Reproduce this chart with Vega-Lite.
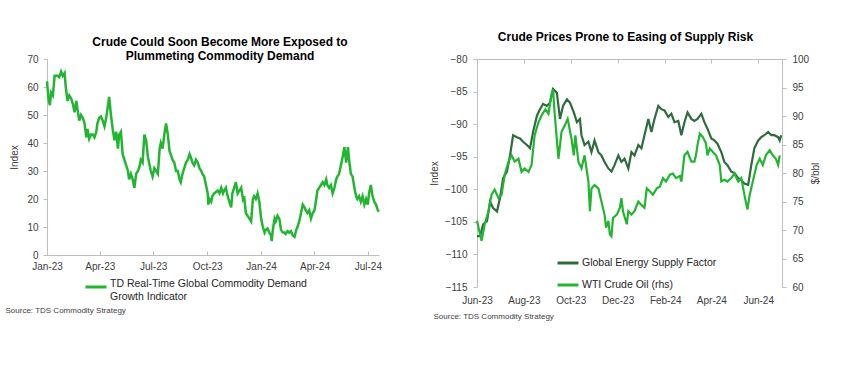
{
  "$schema": "https://vega.github.io/schema/vega-lite/v6.json",
  "padding": {"left": 5, "top": 31, "right": 5, "bottom": 5},
  "spacing": 45,
  "config": {
    "font": "Liberation Sans",
    "view": {"stroke": null},
    "axis": {"labelFont": "Liberation Sans", "labelFontSize": 10, "labelColor": "#404040", "domainColor": "#bfbfbf", "tickColor": "#bfbfbf", "grid": false, "titleFont": "Liberation Sans", "titleFontWeight": "normal", "titleFontSize": 10, "titleColor": "#404040", "tickSize": 4, "labelPadding": 5, "labelFlush": false},
    "legend": {"labelFont": "Liberation Sans", "labelFontSize": 10.5, "labelColor": "#262626", "symbolType": "stroke", "symbolSize": 440, "symbolStrokeWidth": 3, "labelOffset": 2, "padding": 0, "titlePadding": 0},
    "title": {"font": "Liberation Sans", "fontSize": 12, "fontWeight": "bold", "color": "#000000", "anchor": "middle"}
  },
  "resolve": {"scale": {"color": "independent"}, "legend": {"color": "independent"}},
  "hconcat": [
    {
      "width": 332,
      "height": 196,
      "title": {"text": ["Crude Could Soon Become More Exposed to", "Plummeting Commodity Demand"], "offset": 2, "lineHeight": 14, "dx": 7, "dy": 11},
      "data": {"values": [
        {"d": "2023-01-01", "v": 62}, {"d": "2023-01-04", "v": 55}, {"d": "2023-01-06", "v": 53.5}, {"d": "2023-01-08", "v": 58}, {"d": "2023-01-11", "v": 57}, {"d": "2023-01-14", "v": 64}, {"d": "2023-01-19", "v": 64}, {"d": "2023-01-22", "v": 63.5}, {"d": "2023-01-25", "v": 65.5}, {"d": "2023-01-28", "v": 64}, {"d": "2023-01-31", "v": 65},
        {"d": "2023-02-02", "v": 60}, {"d": "2023-02-05", "v": 55}, {"d": "2023-02-08", "v": 57}, {"d": "2023-02-11", "v": 56}, {"d": "2023-02-14", "v": 54}, {"d": "2023-02-17", "v": 51}, {"d": "2023-02-20", "v": 55}, {"d": "2023-02-22", "v": 52}, {"d": "2023-02-25", "v": 48}, {"d": "2023-02-28", "v": 50},
        {"d": "2023-03-03", "v": 49}, {"d": "2023-03-06", "v": 47}, {"d": "2023-03-09", "v": 42}, {"d": "2023-03-11", "v": 45}, {"d": "2023-03-14", "v": 41.5}, {"d": "2023-03-17", "v": 43}, {"d": "2023-03-20", "v": 43}, {"d": "2023-03-23", "v": 42}, {"d": "2023-03-26", "v": 44}, {"d": "2023-03-28", "v": 47}, {"d": "2023-03-31", "v": 49},
        {"d": "2023-04-03", "v": 49.5}, {"d": "2023-04-06", "v": 48}, {"d": "2023-04-09", "v": 46}, {"d": "2023-04-12", "v": 49}, {"d": "2023-04-14", "v": 52}, {"d": "2023-04-17", "v": 56.5}, {"d": "2023-04-20", "v": 50}, {"d": "2023-04-23", "v": 45}, {"d": "2023-04-26", "v": 41}, {"d": "2023-04-29", "v": 44},
        {"d": "2023-05-02", "v": 38}, {"d": "2023-05-04", "v": 43}, {"d": "2023-05-07", "v": 44}, {"d": "2023-05-10", "v": 36}, {"d": "2023-05-13", "v": 34}, {"d": "2023-05-16", "v": 32}, {"d": "2023-05-19", "v": 30}, {"d": "2023-05-21", "v": 27}, {"d": "2023-05-24", "v": 29}, {"d": "2023-05-27", "v": 27}, {"d": "2023-05-30", "v": 24},
        {"d": "2023-06-02", "v": 29}, {"d": "2023-06-05", "v": 30}, {"d": "2023-06-07", "v": 31}, {"d": "2023-06-10", "v": 34}, {"d": "2023-06-13", "v": 33}, {"d": "2023-06-16", "v": 43}, {"d": "2023-06-19", "v": 41}, {"d": "2023-06-22", "v": 35}, {"d": "2023-06-24", "v": 33}, {"d": "2023-06-27", "v": 30}, {"d": "2023-06-30", "v": 28},
        {"d": "2023-07-03", "v": 31}, {"d": "2023-07-06", "v": 30}, {"d": "2023-07-09", "v": 29}, {"d": "2023-07-12", "v": 38}, {"d": "2023-07-14", "v": 40}, {"d": "2023-07-17", "v": 38}, {"d": "2023-07-20", "v": 43}, {"d": "2023-07-23", "v": 47}, {"d": "2023-07-26", "v": 43}, {"d": "2023-07-29", "v": 37}, {"d": "2023-07-31", "v": 36},
        {"d": "2023-08-03", "v": 34}, {"d": "2023-08-06", "v": 33}, {"d": "2023-08-09", "v": 30}, {"d": "2023-08-12", "v": 30}, {"d": "2023-08-15", "v": 27}, {"d": "2023-08-17", "v": 26}, {"d": "2023-08-20", "v": 29}, {"d": "2023-08-23", "v": 31}, {"d": "2023-08-26", "v": 33}, {"d": "2023-08-29", "v": 34},
        {"d": "2023-09-01", "v": 36}, {"d": "2023-09-03", "v": 35}, {"d": "2023-09-06", "v": 33}, {"d": "2023-09-09", "v": 32}, {"d": "2023-09-12", "v": 34}, {"d": "2023-09-15", "v": 33}, {"d": "2023-09-18", "v": 31}, {"d": "2023-09-21", "v": 30}, {"d": "2023-09-23", "v": 29}, {"d": "2023-09-26", "v": 28}, {"d": "2023-09-29", "v": 25},
        {"d": "2023-10-02", "v": 22}, {"d": "2023-10-03", "v": 18}, {"d": "2023-10-05", "v": 20}, {"d": "2023-10-08", "v": 19}, {"d": "2023-10-10", "v": 21}, {"d": "2023-10-13", "v": 22}, {"d": "2023-10-19", "v": 23}, {"d": "2023-10-22", "v": 22}, {"d": "2023-10-25", "v": 24}, {"d": "2023-10-28", "v": 22}, {"d": "2023-10-30", "v": 23},
        {"d": "2023-11-02", "v": 24}, {"d": "2023-11-05", "v": 21}, {"d": "2023-11-08", "v": 19}, {"d": "2023-11-11", "v": 17}, {"d": "2023-11-13", "v": 22}, {"d": "2023-11-16", "v": 24}, {"d": "2023-11-19", "v": 26}, {"d": "2023-11-22", "v": 22}, {"d": "2023-11-25", "v": 23}, {"d": "2023-11-28", "v": 24},
        {"d": "2023-12-01", "v": 20}, {"d": "2023-12-03", "v": 21}, {"d": "2023-12-06", "v": 15}, {"d": "2023-12-09", "v": 14}, {"d": "2023-12-12", "v": 13}, {"d": "2023-12-15", "v": 12}, {"d": "2023-12-18", "v": 20}, {"d": "2023-12-20", "v": 21}, {"d": "2023-12-23", "v": 20}, {"d": "2023-12-26", "v": 22}, {"d": "2023-12-29", "v": 19},
        {"d": "2024-01-01", "v": 13}, {"d": "2024-01-04", "v": 10}, {"d": "2024-01-07", "v": 8}, {"d": "2024-01-09", "v": 9}, {"d": "2024-01-12", "v": 9.5}, {"d": "2024-01-15", "v": 8}, {"d": "2024-01-18", "v": 7}, {"d": "2024-01-19", "v": 5}, {"d": "2024-01-21", "v": 9}, {"d": "2024-01-24", "v": 13}, {"d": "2024-01-26", "v": 12}, {"d": "2024-01-29", "v": 14},
        {"d": "2024-02-01", "v": 13}, {"d": "2024-02-04", "v": 9}, {"d": "2024-02-07", "v": 8}, {"d": "2024-02-10", "v": 8}, {"d": "2024-02-12", "v": 7.5}, {"d": "2024-02-15", "v": 8.5}, {"d": "2024-02-18", "v": 8}, {"d": "2024-02-21", "v": 8.5}, {"d": "2024-02-24", "v": 7}, {"d": "2024-02-27", "v": 6.5},
        {"d": "2024-03-01", "v": 9}, {"d": "2024-03-03", "v": 10}, {"d": "2024-03-06", "v": 12}, {"d": "2024-03-09", "v": 15}, {"d": "2024-03-12", "v": 18}, {"d": "2024-03-15", "v": 17}, {"d": "2024-03-17", "v": 16}, {"d": "2024-03-20", "v": 15}, {"d": "2024-03-23", "v": 16}, {"d": "2024-03-26", "v": 13}, {"d": "2024-03-29", "v": 15},
        {"d": "2024-04-01", "v": 16}, {"d": "2024-04-04", "v": 20}, {"d": "2024-04-06", "v": 23}, {"d": "2024-04-09", "v": 24}, {"d": "2024-04-12", "v": 25}, {"d": "2024-04-15", "v": 26}, {"d": "2024-04-18", "v": 25}, {"d": "2024-04-21", "v": 27}, {"d": "2024-04-23", "v": 25}, {"d": "2024-04-26", "v": 24}, {"d": "2024-04-29", "v": 25},
        {"d": "2024-05-02", "v": 22}, {"d": "2024-05-05", "v": 24}, {"d": "2024-05-08", "v": 27}, {"d": "2024-05-10", "v": 28}, {"d": "2024-05-13", "v": 29}, {"d": "2024-05-16", "v": 32}, {"d": "2024-05-19", "v": 35}, {"d": "2024-05-22", "v": 38.5}, {"d": "2024-05-25", "v": 33}, {"d": "2024-05-28", "v": 38.5}, {"d": "2024-05-30", "v": 34},
        {"d": "2024-06-02", "v": 29}, {"d": "2024-06-05", "v": 28}, {"d": "2024-06-08", "v": 24}, {"d": "2024-06-11", "v": 21}, {"d": "2024-06-13", "v": 20}, {"d": "2024-06-16", "v": 21}, {"d": "2024-06-19", "v": 19}, {"d": "2024-06-22", "v": 21}, {"d": "2024-06-25", "v": 18}, {"d": "2024-06-28", "v": 20},
        {"d": "2024-07-01", "v": 18}, {"d": "2024-07-03", "v": 22}, {"d": "2024-07-06", "v": 25}, {"d": "2024-07-09", "v": 21}, {"d": "2024-07-12", "v": 19}, {"d": "2024-07-15", "v": 18}, {"d": "2024-07-18", "v": 16}, {"d": "2024-07-20", "v": 15.5}
      ]},
      "mark": {"type": "line", "strokeWidth": 2.5},
      "encoding": {
        "x": {
          "field": "d", "type": "temporal",
          "scale": {"type": "utc", "domain": [{"year": 2023, "month": 1, "date": 1, "utc": true}, {"year": 2024, "month": 7, "date": 20, "utc": true}]},
          "axis": {
            "format": "%b-%y",
            "values": [{"year": 2023, "month": 1, "date": 1, "utc": true}, {"year": 2023, "month": 4, "date": 1, "utc": true}, {"year": 2023, "month": 7, "date": 1, "utc": true}, {"year": 2023, "month": 10, "date": 1, "utc": true}, {"year": 2024, "month": 1, "date": 1, "utc": true}, {"year": 2024, "month": 4, "date": 1, "utc": true}, {"year": 2024, "month": 7, "date": 1, "utc": true}],
            "tickSize": -4, "labelPadding": 10,
            "title": "Source: TDS Commodity Strategy", "titleFontSize": 8, "titleX": -42, "titleY": 55, "titleAlign": "left", "titleBaseline": "middle", "titleAnchor": "start"
          }
        },
        "y": {
          "field": "v", "type": "quantitative",
          "scale": {"domain": [0, 70]},
          "axis": {"values": [0, 10, 20, 30, 40, 50, 60, 70], "title": "Index", "titlePadding": 7}
        },
        "color": {
          "datum": "TD Real-Time Global Commodity Demand Growth Indicator",
          "scale": {"range": ["#22b532"]},
          "legend": {"orient": "none", "legendX": 37, "legendY": 216, "title": null, "labelExpr": "['TD Real-Time Global Commodity Demand', 'Growth Indicator']", "labelBaseline": "alphabetic", "labelLimit": 400}
        }
      }
    },
    {
      "width": 305,
      "height": 228,
      "title": {"text": "Crude Prices Prone to Easing of Supply Risk", "offset": 10, "dx": -4},
      "layer": [
        {
          "data": {"values": [
            {"d": "2023-06-01", "v": -107.2}, {"d": "2023-06-05", "v": -107.2}, {"d": "2023-06-09", "v": -105.4}, {"d": "2023-06-14", "v": -104.9}, {"d": "2023-06-18", "v": -101.9}, {"d": "2023-06-22", "v": -102.9}, {"d": "2023-06-27", "v": -103.4},
            {"d": "2023-07-01", "v": -101.3}, {"d": "2023-07-05", "v": -98.3}, {"d": "2023-07-10", "v": -97.3}, {"d": "2023-07-14", "v": -94.8}, {"d": "2023-07-18", "v": -91.7}, {"d": "2023-07-23", "v": -92}, {"d": "2023-07-27", "v": -92.2}, {"d": "2023-07-31", "v": -92.7},
            {"d": "2023-08-05", "v": -93.2}, {"d": "2023-08-09", "v": -93.7}, {"d": "2023-08-13", "v": -91.2}, {"d": "2023-08-18", "v": -88.7}, {"d": "2023-08-22", "v": -87.7}, {"d": "2023-08-26", "v": -86.9}, {"d": "2023-08-31", "v": -87.2},
            {"d": "2023-09-04", "v": -86.7}, {"d": "2023-09-08", "v": -84.6}, {"d": "2023-09-13", "v": -85.2}, {"d": "2023-09-17", "v": -89.2}, {"d": "2023-09-21", "v": -87.2}, {"d": "2023-09-26", "v": -86.2}, {"d": "2023-09-30", "v": -86.7},
            {"d": "2023-10-05", "v": -88.2}, {"d": "2023-10-09", "v": -89.7}, {"d": "2023-10-13", "v": -89.2}, {"d": "2023-10-15", "v": -91.7}, {"d": "2023-10-19", "v": -93.2}, {"d": "2023-10-24", "v": -92.7}, {"d": "2023-10-28", "v": -94.3},
            {"d": "2023-11-01", "v": -92.5}, {"d": "2023-11-06", "v": -94.3}, {"d": "2023-11-10", "v": -94.8}, {"d": "2023-11-14", "v": -95.8}, {"d": "2023-11-19", "v": -96.8}, {"d": "2023-11-23", "v": -97.3}, {"d": "2023-11-27", "v": -96.3},
            {"d": "2023-12-02", "v": -94.8}, {"d": "2023-12-06", "v": -95.8}, {"d": "2023-12-10", "v": -95.3}, {"d": "2023-12-15", "v": -96.8}, {"d": "2023-12-19", "v": -94.3}, {"d": "2023-12-23", "v": -94.8}, {"d": "2023-12-28", "v": -93.2},
            {"d": "2024-01-01", "v": -93.7}, {"d": "2024-01-05", "v": -91.7}, {"d": "2024-01-10", "v": -89.2}, {"d": "2024-01-14", "v": -91.2}, {"d": "2024-01-18", "v": -89.2}, {"d": "2024-01-23", "v": -87.2}, {"d": "2024-01-27", "v": -87.7}, {"d": "2024-01-31", "v": -87.9},
            {"d": "2024-02-05", "v": -88.9}, {"d": "2024-02-09", "v": -88.4}, {"d": "2024-02-13", "v": -89.7}, {"d": "2024-02-18", "v": -89.5}, {"d": "2024-02-22", "v": -91.7}, {"d": "2024-02-26", "v": -89.7},
            {"d": "2024-03-01", "v": -88.2}, {"d": "2024-03-06", "v": -89.2}, {"d": "2024-03-10", "v": -89.5}, {"d": "2024-03-14", "v": -89.2}, {"d": "2024-03-19", "v": -88.4}, {"d": "2024-03-23", "v": -89.7}, {"d": "2024-03-27", "v": -90.7},
            {"d": "2024-04-01", "v": -92.2}, {"d": "2024-04-05", "v": -92.5}, {"d": "2024-04-09", "v": -93}, {"d": "2024-04-14", "v": -94.3}, {"d": "2024-04-18", "v": -95.8}, {"d": "2024-04-22", "v": -96.3}, {"d": "2024-04-27", "v": -97.3},
            {"d": "2024-05-01", "v": -97.5}, {"d": "2024-05-06", "v": -98.3}, {"d": "2024-05-10", "v": -98.6}, {"d": "2024-05-14", "v": -99.1}, {"d": "2024-05-19", "v": -99.3}, {"d": "2024-05-23", "v": -96.3}, {"d": "2024-05-27", "v": -93.7},
            {"d": "2024-06-01", "v": -92.5}, {"d": "2024-06-05", "v": -92}, {"d": "2024-06-09", "v": -91.7}, {"d": "2024-06-14", "v": -91.2}, {"d": "2024-06-18", "v": -91.7}, {"d": "2024-06-22", "v": -91.7}, {"d": "2024-06-27", "v": -92}, {"d": "2024-06-29", "v": -92.5}, {"d": "2024-07-01", "v": -91.7}
          ]},
          "mark": {"type": "line", "strokeWidth": 2.2},
          "encoding": {
            "x": {
              "field": "d", "type": "temporal",
              "scale": {"type": "utc", "domain": [{"year": 2023, "month": 6, "date": 1, "utc": true}, {"year": 2024, "month": 7, "date": 2, "utc": true}]},
              "axis": {
                "orient": "bottom", "format": "%b-%y", "domain": false, "ticks": false, "labelPadding": 8,
                "values": [{"year": 2023, "month": 6, "date": 1, "utc": true}, {"year": 2023, "month": 8, "date": 1, "utc": true}, {"year": 2023, "month": 10, "date": 1, "utc": true}, {"year": 2023, "month": 12, "date": 1, "utc": true}, {"year": 2024, "month": 2, "date": 1, "utc": true}, {"year": 2024, "month": 4, "date": 1, "utc": true}, {"year": 2024, "month": 6, "date": 1, "utc": true}],
                "title": "Source: TDS Commodity Strategy", "titleFontSize": 8, "titleX": -44, "titleY": 29, "titleAlign": "left", "titleBaseline": "middle", "titleAnchor": "start"
              }
            },
            "y": {
              "field": "v", "type": "quantitative",
              "scale": {"domain": [-115, -80]},
              "axis": {"orient": "left", "values": [-115, -110, -105, -100, -95, -90, -85, -80], "title": "Index", "titlePadding": 5, "labelPadding": 6}
            },
            "color": {
              "datum": "Global Energy Supply Factor",
              "scale": {"domain": ["Global Energy Supply Factor", "WTI Crude Oil (rhs)"], "range": ["#2e6b3d", "#22b532"]},
              "legend": {"orient": "none", "legendX": 79, "legendY": 192, "title": null, "rowPadding": 4, "direction": "vertical", "labelLimit": 400}
            }
          }
        },
        {
          "data": {"values": [
            {"d": "2023-06-01", "w": 71.6}, {"d": "2023-06-05", "w": 69.2}, {"d": "2023-06-07", "w": 68.1}, {"d": "2023-06-11", "w": 71}, {"d": "2023-06-16", "w": 73.3}, {"d": "2023-06-20", "w": 76.2}, {"d": "2023-06-24", "w": 77.1}, {"d": "2023-06-29", "w": 75.6},
            {"d": "2023-07-03", "w": 76.2}, {"d": "2023-07-07", "w": 79.7}, {"d": "2023-07-12", "w": 82}, {"d": "2023-07-16", "w": 83.1}, {"d": "2023-07-20", "w": 82}, {"d": "2023-07-25", "w": 82.5}, {"d": "2023-07-29", "w": 80.2},
            {"d": "2023-08-02", "w": 80.8}, {"d": "2023-08-07", "w": 80.2}, {"d": "2023-08-11", "w": 81.4}, {"d": "2023-08-15", "w": 86.6}, {"d": "2023-08-20", "w": 88.9}, {"d": "2023-08-24", "w": 90.1}, {"d": "2023-08-29", "w": 91.2},
            {"d": "2023-09-02", "w": 90.4}, {"d": "2023-09-06", "w": 93.8}, {"d": "2023-09-08", "w": 94.7}, {"d": "2023-09-10", "w": 90.6}, {"d": "2023-09-15", "w": 82.5}, {"d": "2023-09-19", "w": 87.2}, {"d": "2023-09-23", "w": 88.3}, {"d": "2023-09-27", "w": 89.5},
            {"d": "2023-10-02", "w": 86}, {"d": "2023-10-05", "w": 83.1}, {"d": "2023-10-07", "w": 86.6}, {"d": "2023-10-11", "w": 82}, {"d": "2023-10-15", "w": 80.8}, {"d": "2023-10-19", "w": 83.1}, {"d": "2023-10-24", "w": 78.5}, {"d": "2023-10-26", "w": 73.3}, {"d": "2023-10-28", "w": 77.3},
            {"d": "2023-11-01", "w": 77.9}, {"d": "2023-11-06", "w": 77.3}, {"d": "2023-11-10", "w": 75}, {"d": "2023-11-14", "w": 72.7}, {"d": "2023-11-16", "w": 70.4}, {"d": "2023-11-19", "w": 71.6}, {"d": "2023-11-21", "w": 69.2}, {"d": "2023-11-23", "w": 68.9}, {"d": "2023-11-25", "w": 72.1}, {"d": "2023-11-30", "w": 72.7},
            {"d": "2023-12-04", "w": 73.9}, {"d": "2023-12-06", "w": 75.6}, {"d": "2023-12-08", "w": 73.3}, {"d": "2023-12-13", "w": 71}, {"d": "2023-12-15", "w": 73.3}, {"d": "2023-12-19", "w": 72.7}, {"d": "2023-12-23", "w": 73.3}, {"d": "2023-12-28", "w": 75},
            {"d": "2024-01-01", "w": 74.4}, {"d": "2024-01-05", "w": 73.9}, {"d": "2024-01-08", "w": 77.3}, {"d": "2024-01-12", "w": 76.8}, {"d": "2024-01-16", "w": 76.2}, {"d": "2024-01-21", "w": 77.3}, {"d": "2024-01-25", "w": 77.6}, {"d": "2024-01-29", "w": 79.1},
            {"d": "2024-02-02", "w": 78.5}, {"d": "2024-02-07", "w": 79.7}, {"d": "2024-02-11", "w": 79.9}, {"d": "2024-02-15", "w": 79.1}, {"d": "2024-02-20", "w": 79.5}, {"d": "2024-02-22", "w": 78.5}, {"d": "2024-02-26", "w": 83.1},
            {"d": "2024-03-01", "w": 83.7}, {"d": "2024-03-06", "w": 82}, {"d": "2024-03-10", "w": 82}, {"d": "2024-03-12", "w": 83.1}, {"d": "2024-03-14", "w": 84.9}, {"d": "2024-03-17", "w": 86.9}, {"d": "2024-03-21", "w": 86.3}, {"d": "2024-03-25", "w": 85.2}, {"d": "2024-03-27", "w": 83.1}, {"d": "2024-03-30", "w": 84.3},
            {"d": "2024-04-03", "w": 83.7}, {"d": "2024-04-07", "w": 83.1}, {"d": "2024-04-12", "w": 81.4}, {"d": "2024-04-14", "w": 78.5}, {"d": "2024-04-18", "w": 78.8}, {"d": "2024-04-22", "w": 78.5}, {"d": "2024-04-27", "w": 79.1},
            {"d": "2024-05-01", "w": 79.9}, {"d": "2024-05-06", "w": 78.5}, {"d": "2024-05-10", "w": 79.1}, {"d": "2024-05-14", "w": 76.2}, {"d": "2024-05-18", "w": 73.6}, {"d": "2024-05-21", "w": 76.2}, {"d": "2024-05-25", "w": 78.5}, {"d": "2024-05-30", "w": 81.4},
            {"d": "2024-06-03", "w": 82.5}, {"d": "2024-06-07", "w": 81.4}, {"d": "2024-06-11", "w": 83.1}, {"d": "2024-06-16", "w": 84}, {"d": "2024-06-20", "w": 83.1}, {"d": "2024-06-24", "w": 82.5}, {"d": "2024-06-27", "w": 81.4}, {"d": "2024-06-29", "w": 83.1}
          ]},
          "mark": {"type": "line", "strokeWidth": 2.2},
          "encoding": {
            "x": {
              "field": "d", "type": "temporal",
              "axis": {
                "orient": "top", "labels": false, "tickSize": -4, "title": null,
                "values": [{"year": 2023, "month": 6, "date": 1, "utc": true}, {"year": 2023, "month": 8, "date": 1, "utc": true}, {"year": 2023, "month": 10, "date": 1, "utc": true}, {"year": 2023, "month": 12, "date": 1, "utc": true}, {"year": 2024, "month": 2, "date": 1, "utc": true}, {"year": 2024, "month": 4, "date": 1, "utc": true}, {"year": 2024, "month": 6, "date": 1, "utc": true}]
              }
            },
            "y": {
              "field": "w", "type": "quantitative",
              "scale": {"domain": [60, 100]},
              "axis": {"orient": "right", "values": [60, 65, 70, 75, 80, 85, 90, 95, 100], "title": "$/bbl", "titleAngle": 270, "titlePadding": 12, "labelPadding": 6}
            },
            "color": {"datum": "WTI Crude Oil (rhs)"}
          }
        }
      ],
      "resolve": {"scale": {"y": "independent"}, "axis": {"x": "independent"}}
    }
  ]
}
